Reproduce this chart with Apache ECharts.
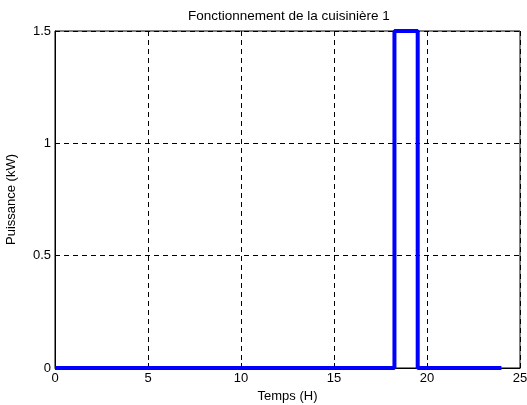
<!DOCTYPE html>
<html><head><meta charset="utf-8">
<script src="https://cdn.jsdelivr.net/npm/echarts@6/dist/echarts.min.js"></script>
<style>html,body{margin:0;padding:0;background:#fff}#c{width:527px;height:405px}</style>
</head><body><div id="c"></div>
<script>
const timeH = [0, 18.25, 18.25, 19.5, 19.5, 24];
const powerKW = [0, 0, 1.5, 1.5, 0, 0];
const xTicks = [0, 5, 10, 15, 20, 25];
const yTicks = [0, 0.5, 1, 1.5];
const title = "Fonctionnement de la cuisinière 1";
const xName = "Temps (H)";
const yName = "Puissance (kW)";

const font = "Arial, 'Liberation Sans', sans-serif";
const fs = 13;
const chart = echarts.init(document.getElementById('c'), null, {renderer: 'canvas'});
const axisCommon = {
  axisLine: {show: true, lineStyle: {color: '#000', width: 1}},
  axisTick: {show: true, inside: true, length: 5, lineStyle: {color: '#000'}},
  axisLabel: {color: '#000', fontSize: fs, fontFamily: font},
  splitLine: {show: true, lineStyle: {color: '#000', type: [5, 4], width: 1}}
};
chart.setOption({
  animation: false,
  title: {text: title, left: 183, top: 4,
    textStyle: {fontSize: 13.5, fontWeight: 'normal', color: '#000', fontFamily: font}},
  grid: {left: 55, right: 7, top: 31, bottom: 37, show: true, borderColor: '#000', borderWidth: 1,
    backgroundColor: '#fff', containLabel: false, outerBoundsMode: 'none'},
  xAxis: Object.assign({}, axisCommon, {
    type: 'value', min: xTicks[0], max: xTicks[xTicks.length-1], interval: 5,
    name: xName, nameLocation: 'middle', nameGap: 22,
    nameTextStyle: {fontSize: fs, color: '#000', fontFamily: font},
    axisLabel: Object.assign({}, axisCommon.axisLabel, {margin: 4})
  }),
  yAxis: Object.assign({}, axisCommon, {
    type: 'value', min: yTicks[0], max: yTicks[yTicks.length-1], interval: 0.5,
    name: yName, nameLocation: 'middle', nameGap: 37,
    nameTextStyle: {fontSize: fs, color: '#000', fontFamily: font},
    axisLabel: Object.assign({}, axisCommon.axisLabel, {margin: 4, formatter: v => String(v)})
  }),
  series: [{
    type: 'line',
    data: timeH.map((t, i) => [t, powerKW[i]]),
    showSymbol: false,
    lineStyle: {color: '#0000ff', width: 4},
    itemStyle: {color: '#0000ff'}
  }]
});
</script></body></html>
